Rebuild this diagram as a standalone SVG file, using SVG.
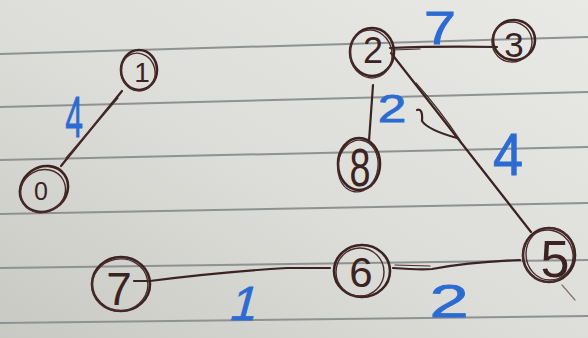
<svg xmlns="http://www.w3.org/2000/svg" width="588" height="338" viewBox="0 0 588 338">
<defs>
<linearGradient id="paper" x1="1" y1="0" x2="0" y2="1">
<stop offset="0" stop-color="#e9e9e6"/>
<stop offset="0.55" stop-color="#dcdcd8"/>
<stop offset="1" stop-color="#c9c9c4"/>
</linearGradient>
<style>
.rule{stroke:#8e9292;stroke-width:2;fill:none}
.n{fill:none;stroke:#3b2322;stroke-width:2.6}
.n2{fill:none;stroke:#4a2c2a;stroke-width:1.4}
.e{fill:none;stroke:#3b2322;stroke-width:2.2;stroke-linecap:round}
.e2{fill:none;stroke:#4a2c2a;stroke-width:1.2;stroke-linecap:round}
.d{font-family:"Liberation Sans",Arial,sans-serif;fill:#3b2322;text-anchor:middle}
.w{font-family:"Liberation Sans",Arial,sans-serif;fill:#2b6bd2;stroke:#2b6bd2;stroke-width:0.8;text-anchor:middle}
</style>
</defs>
<rect width="588" height="338" fill="url(#paper)"/>
<g id="paper-lines">
<line class="rule" x1="0" y1="54" x2="588" y2="37"/>
<line class="rule" x1="0" y1="107" x2="588" y2="92"/>
<line class="rule" x1="0" y1="160" x2="588" y2="147"/>
<line class="rule" x1="0" y1="214" x2="588" y2="203"/>
<line class="rule" x1="0" y1="268" x2="588" y2="260"/>
<line class="rule" x1="0" y1="323" x2="588" y2="316"/>
</g>
<g id="connectors">
<path class="e" d="M61,166 L122,91"/>
<path class="e2" d="M66,158 L118,98"/>
<path class="e" d="M390,48 Q440,46 497,47"/>
<path class="e2" d="M392,50 L420,49"/>
<path class="e" d="M373,85 L369,141"/>
<path class="e" d="M391,53 L531,232"/>
<path class="e2" d="M416,83 Q440,110 460,140"/>
<path class="e2" d="M562,285 L575,300" stroke-opacity="0.6"/>
<path class="e" d="M417,110 Q423,108 422,121 Q428,130 457,138"/>
<path class="e" d="M134,281 L150,281 Q220,272 287,268 L330,268"/>
<path class="e" d="M393,268 Q420,270 432,269 Q470,262 520,260"/>
<path class="e2" d="M395,265 L430,266"/>
<text class="w" transform="translate(74,137) scale(0.55,1)" font-size="58">4</text>
<text class="w" transform="translate(440,44) scale(1.25,1)" font-size="46">7</text>
<text class="w" transform="translate(392,122) scale(1.35,1)" font-size="38">2</text>
<text class="w" transform="translate(508,175) scale(0.9,1)" font-size="60">4</text>
<text class="w" transform="translate(241,320) skewX(-15)" font-size="48">1</text>
<text class="w" transform="translate(449,317) scale(1.5,1)" font-size="47">2</text>
</g>
<g id="node-1">
<ellipse class="n" cx="139" cy="70" rx="18" ry="20"/>
<ellipse class="n2" cx="138" cy="72" rx="17" ry="19" transform="rotate(-15 138 72)"/>
<text class="d" x="142" y="82" font-size="28">1</text>
</g>
<g id="node-0">
<ellipse class="n" cx="44" cy="189" rx="25" ry="22" transform="rotate(-35 44 189)"/>
<ellipse class="n2" cx="43" cy="191" rx="23" ry="21" transform="rotate(-30 43 191)"/>
<text class="d" x="41" y="200" font-size="25">0</text>
</g>
<g id="node-2">
<ellipse class="n" cx="372" cy="52" rx="22" ry="24"/>
<ellipse class="n2" cx="371" cy="54" rx="21" ry="24" transform="rotate(-10 371 54)"/>
<text class="d" x="373" y="63" font-size="36">2</text>
</g>
<g id="node-3">
<ellipse class="n" cx="514" cy="40" rx="21" ry="20"/>
<ellipse class="n2" cx="512" cy="42" rx="20" ry="20"/>
<text class="d" x="514" y="57" font-size="35">3</text>
</g>
<g id="node-8">
<ellipse class="n" cx="359" cy="164" rx="21" ry="26"/>
<ellipse class="n2" cx="358" cy="166" rx="20" ry="26" transform="rotate(8 358 166)"/>
<text class="d" transform="translate(360,186) scale(0.7,1)" font-size="54">8</text>
</g>
<g id="node-5">
<ellipse class="n" cx="549" cy="255" rx="26" ry="27"/>
<ellipse class="n2" cx="548" cy="256" rx="25" ry="26" transform="rotate(-15 548 256)"/>
<ellipse class="n2" cx="550" cy="254" rx="24" ry="26"/>
<text class="d" x="555" y="277" font-size="52">5</text>
</g>
<g id="node-6">
<ellipse class="n" cx="362" cy="271" rx="28" ry="26"/>
<ellipse class="n2" cx="360" cy="272" rx="24" ry="24"/>
<text class="d" x="361" y="287" font-size="42">6</text>
</g>
<g id="node-7">
<ellipse class="n" cx="121" cy="284" rx="29" ry="27"/>
<ellipse class="n2" cx="120" cy="285" rx="28" ry="26" transform="rotate(-10 120 285)"/>
<text class="d" x="119" y="305" font-size="46">7</text>
</g>
</svg>
